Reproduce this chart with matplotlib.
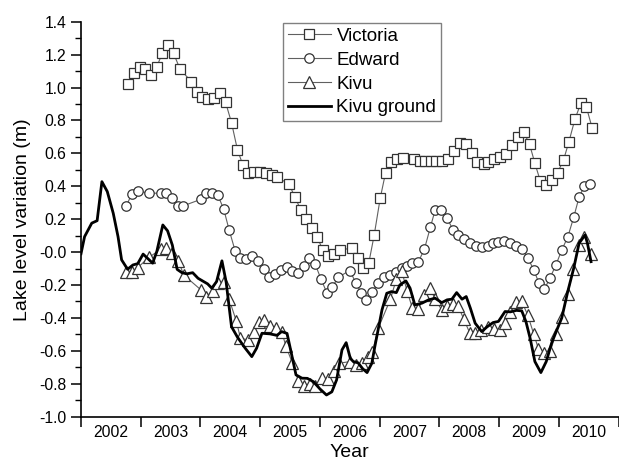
import numpy as np
import matplotlib
matplotlib.use("Agg")
import matplotlib.pyplot as plt
from matplotlib.ticker import FixedLocator, MultipleLocator

plt.rcParams["font.family"] = ["Liberation Sans", "DejaVu Sans"]

# Lake Victoria (altimetry)
victoria_t = [2002.78, 2002.89, 2002.98, 2003.07, 2003.17, 2003.27, 2003.36, 2003.46,
              2003.55, 2003.66, 2003.85, 2003.94, 2004.02, 2004.13, 2004.23, 2004.32,
              2004.42, 2004.52, 2004.62, 2004.71, 2004.80, 2004.90, 2004.99, 2005.09,
              2005.19, 2005.28, 2005.48, 2005.58, 2005.68, 2005.76, 2005.86, 2005.95,
              2006.05, 2006.14, 2006.24, 2006.34, 2006.53, 2006.63, 2006.73, 2006.82,
              2006.91, 2007.01, 2007.10, 2007.19, 2007.29, 2007.39, 2007.58, 2007.67,
              2007.76, 2007.86, 2007.95, 2008.05, 2008.15, 2008.25, 2008.35, 2008.45,
              2008.54, 2008.63, 2008.74, 2008.82, 2008.92, 2009.02, 2009.12, 2009.21,
              2009.31, 2009.41, 2009.51, 2009.60, 2009.69, 2009.79, 2009.88, 2009.98,
              2010.08, 2010.17, 2010.27, 2010.37, 2010.46, 2010.56]
victoria_h = [1.022, 1.09, 1.127, 1.11, 1.077, 1.127, 1.208, 1.259,
              1.208, 1.11, 1.036, 0.975, 0.945, 0.931, 0.939, 0.965,
              0.911, 0.787, 0.621, 0.53, 0.479, 0.489, 0.489, 0.483,
              0.469, 0.455, 0.415, 0.337, 0.256, 0.202, 0.149, 0.094,
              0.013, -0.021, -0.011, 0.013, 0.024, -0.037, -0.098, -0.064,
              0.105, 0.327, 0.483, 0.55, 0.564, 0.57, 0.564, 0.556,
              0.554, 0.554, 0.554, 0.556, 0.564, 0.615, 0.662, 0.657,
              0.601, 0.55, 0.534, 0.548, 0.564, 0.58, 0.597, 0.651,
              0.698, 0.732, 0.656, 0.54, 0.433, 0.408, 0.439, 0.483,
              0.56, 0.671, 0.807, 0.905, 0.884, 0.753]

# Lake Edward (altimetry)
edward_t = [2002.76, 2002.85, 2002.95, 2003.14, 2003.34, 2003.43, 2003.53, 2003.62,
            2003.71, 2004.01, 2004.10, 2004.20, 2004.29, 2004.39, 2004.48, 2004.58,
            2004.66, 2004.76, 2004.87, 2004.97, 2005.07, 2005.15, 2005.25, 2005.35,
            2005.45, 2005.54, 2005.63, 2005.74, 2005.82, 2005.92, 2006.02, 2006.12,
            2006.21, 2006.31, 2006.50, 2006.60, 2006.69, 2006.78, 2006.88, 2006.98,
            2007.08, 2007.18, 2007.28, 2007.37, 2007.46, 2007.55, 2007.65, 2007.75,
            2007.85, 2007.93, 2008.03, 2008.13, 2008.23, 2008.32, 2008.42, 2008.52,
            2008.61, 2008.71, 2008.81, 2008.90, 2008.99, 2009.09, 2009.19, 2009.29,
            2009.38, 2009.48, 2009.58, 2009.67, 2009.76, 2009.85, 2009.95, 2010.05,
            2010.15, 2010.25, 2010.34, 2010.43, 2010.53]
edward_h = [0.281, 0.354, 0.372, 0.358, 0.358, 0.358, 0.327, 0.281,
            0.281, 0.321, 0.361, 0.358, 0.347, 0.261, 0.135, 0.009,
            -0.033, -0.043, -0.023, -0.052, -0.104, -0.149, -0.134, -0.108,
            -0.088, -0.112, -0.125, -0.084, -0.037, -0.072, -0.165, -0.25,
            -0.21, -0.152, -0.112, -0.185, -0.246, -0.29, -0.24, -0.185,
            -0.149, -0.139, -0.118, -0.098, -0.084, -0.064, -0.058, 0.018,
            0.151, 0.256, 0.256, 0.206, 0.135, 0.104, 0.078, 0.058,
            0.038, 0.03, 0.038, 0.054, 0.064, 0.07, 0.058, 0.038,
            0.018, -0.033, -0.108, -0.189, -0.225, -0.159, -0.08, 0.013,
            0.091, 0.212, 0.334, 0.402, 0.411]

# Lake Kivu (altimetry)
kivu_t = [2002.76, 2002.86, 2002.95, 2003.14, 2003.34, 2003.43, 2003.53, 2003.63,
          2003.72, 2004.01, 2004.10, 2004.21, 2004.30, 2004.39, 2004.48, 2004.60,
          2004.67, 2004.79, 2004.89, 2004.98, 2005.07, 2005.17, 2005.27, 2005.36,
          2005.43, 2005.54, 2005.64, 2005.74, 2005.84, 2005.92, 2006.03, 2006.13,
          2006.23, 2006.32, 2006.51, 2006.61, 2006.71, 2006.81, 2006.88, 2006.98,
          2007.18, 2007.28, 2007.37, 2007.46, 2007.55, 2007.65, 2007.75, 2007.85,
          2007.93, 2008.04, 2008.13, 2008.23, 2008.32, 2008.41, 2008.51, 2008.60,
          2008.70, 2008.82, 2008.92, 2009.01, 2009.10, 2009.19, 2009.29, 2009.38,
          2009.48, 2009.58, 2009.66, 2009.76, 2009.86, 2009.95, 2010.05, 2010.15,
          2010.24, 2010.34, 2010.43, 2010.54]
kivu_h = [-0.122, -0.118, -0.094, -0.031, 0.018, 0.024, -0.007, -0.052,
          -0.139, -0.23, -0.27, -0.234, -0.189, -0.179, -0.286, -0.418,
          -0.523, -0.533, -0.483, -0.422, -0.412, -0.448, -0.462, -0.483,
          -0.57, -0.675, -0.781, -0.813, -0.8, -0.813, -0.766, -0.772,
          -0.72, -0.675, -0.665, -0.685, -0.675, -0.639, -0.605, -0.46,
          -0.287, -0.165, -0.114, -0.236, -0.342, -0.348, -0.26, -0.22,
          -0.287, -0.351, -0.327, -0.318, -0.33, -0.409, -0.491, -0.491,
          -0.473, -0.457, -0.467, -0.473, -0.43, -0.361, -0.303, -0.3,
          -0.382, -0.497, -0.588, -0.611, -0.6, -0.497, -0.394, -0.257,
          -0.105, 0.041, 0.092, -0.011]

# Lake Kivu gauge
ground_t = [2002.00, 2002.06, 2002.18, 2002.27, 2002.35, 2002.44, 2002.54, 2002.62,
            2002.68, 2002.78, 2002.87, 2002.95, 2003.04, 2003.13, 2003.20, 2003.27,
            2003.37, 2003.45, 2003.53, 2003.61, 2003.69, 2003.77, 2003.87, 2003.96,
            2004.12, 2004.19, 2004.27, 2004.36, 2004.43, 2004.52, 2004.62, 2004.75,
            2004.86, 2004.94, 2005.03, 2005.17, 2005.28, 2005.36, 2005.45, 2005.51,
            2005.60, 2005.70, 2005.79, 2005.89, 2006.00, 2006.11, 2006.20, 2006.28,
            2006.37, 2006.44, 2006.51, 2006.56, 2006.64, 2006.72, 2006.79, 2006.87,
            2006.92, 2007.04, 2007.12, 2007.20, 2007.28, 2007.34, 2007.44, 2007.51,
            2007.59, 2007.71, 2007.82, 2007.93, 2008.04, 2008.13, 2008.21, 2008.29,
            2008.38, 2008.45, 2008.52, 2008.60, 2008.71, 2008.80, 2008.90, 2008.99,
            2009.10, 2009.19, 2009.29, 2009.38, 2009.45, 2009.52, 2009.60, 2009.70,
            2009.79, 2009.88, 2009.98, 2010.05, 2010.15, 2010.25, 2010.34, 2010.44,
            2010.48, 2010.54]
ground_h = [-0.01, 0.094, 0.176, 0.191, 0.428, 0.368, 0.236, 0.094,
            -0.047, -0.104, -0.078, -0.07, -0.012, -0.043, -0.067, 0.005,
            0.165, 0.129, 0.042, -0.105, -0.125, -0.132, -0.125, -0.159,
            -0.193, -0.219, -0.179, -0.053, -0.181, -0.453, -0.517, -0.584,
            -0.635, -0.584, -0.493, -0.497, -0.506, -0.483, -0.494, -0.594,
            -0.746, -0.766, -0.767, -0.787, -0.831, -0.868, -0.849, -0.776,
            -0.594, -0.55, -0.646, -0.665, -0.673, -0.71, -0.732, -0.675,
            -0.574, -0.351, -0.25, -0.24, -0.246, -0.199, -0.175, -0.219,
            -0.321, -0.31, -0.29, -0.28, -0.307, -0.29, -0.286, -0.246,
            -0.286, -0.27, -0.341, -0.432, -0.483, -0.454, -0.428, -0.421,
            -0.361, -0.363, -0.354, -0.357, -0.422, -0.523, -0.665, -0.732,
            -0.665, -0.553, -0.462, -0.4, -0.24, -0.098, 0.054, 0.104,
            0.054, -0.058]

years = list(range(2002, 2011))


def main():
    fig = plt.figure(figsize=(6.19, 4.66), dpi=100)
    ax = fig.add_axes([81 / 619, 1 - 416.7 / 466, 537.5 / 619, 395 / 466])

    line_kw = dict(color="#606060", linewidth=0.8, markerfacecolor="white",
                   markeredgecolor="#333333", markeredgewidth=0.9)
    ax.plot(victoria_t, victoria_h, marker="s", markersize=6.5, label="Victoria", **line_kw)
    ax.plot(edward_t, edward_h, marker="o", markersize=6.8, label="Edward", **line_kw)
    ax.plot(kivu_t, kivu_h, marker="^", markersize=8.2, label="Kivu", **line_kw)
    ax.plot(ground_t, ground_h, color="black", linewidth=2.0, label="Kivu ground")

    ax.set_xlim(2002, 2011)
    ax.set_ylim(-1.0, 1.4)

    ax.spines["top"].set_visible(False)
    ax.spines["right"].set_visible(False)
    ax.spines["left"].set_linewidth(1.2)
    ax.spines["bottom"].set_linewidth(1.2)

    # year boundaries as ticks, year names centred between them
    ax.xaxis.set_major_locator(FixedLocator(range(2002, 2012)))
    ax.xaxis.set_minor_locator(FixedLocator([y + 0.5 for y in years]))
    ax.set_xticklabels([])
    ax.set_xticklabels([str(y) for y in years], minor=True)
    ax.tick_params(axis="x", which="major", direction="out", length=7, width=1.1)
    ax.tick_params(axis="x", which="minor", length=0, labelsize=11.3, pad=6)

    ax.yaxis.set_major_locator(MultipleLocator(0.2))
    ax.yaxis.set_minor_locator(MultipleLocator(0.1))
    ax.set_yticks(np.arange(-1.0, 1.41, 0.2))
    ax.set_yticklabels([f"{v:.1f}" for v in np.arange(-1.0, 1.41, 0.2)])
    ax.tick_params(axis="y", which="major", direction="out", length=7, width=1.1,
                   labelsize=11.3)
    ax.tick_params(axis="y", which="minor", direction="out", length=4, width=1.0)

    ax.set_xlabel("Year", fontsize=14, labelpad=3)
    ax.set_ylabel("Lake level variation (m)", fontsize=14, labelpad=6)

    leg = ax.legend(loc="upper left", bbox_to_anchor=(283 / 619, 1 - 23 / 466),
                    bbox_transform=fig.transFigure, borderaxespad=0,
                    fontsize=13.5, numpoints=1, handlelength=2.3,
                    handletextpad=0.3, labelspacing=0.36, borderpad=0.25,
                    fancybox=False, framealpha=1)
    leg.get_frame().set_edgecolor("#808080")
    leg.get_frame().set_linewidth(1.0)

    fig.savefig("out.png", dpi=100)


if __name__ == "__main__":
    main()
